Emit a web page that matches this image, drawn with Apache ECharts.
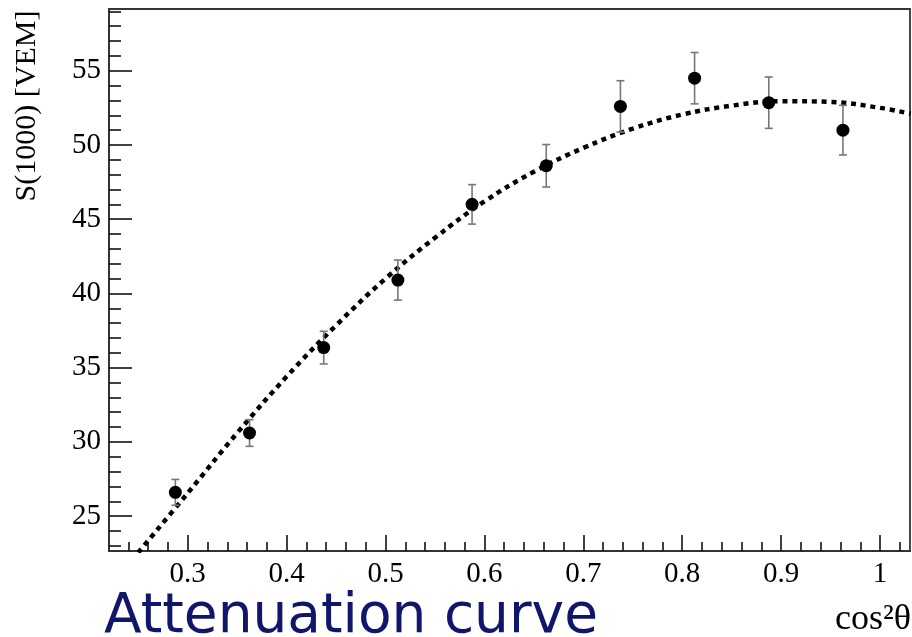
<!DOCTYPE html>
<html>
<head>
<meta charset="utf-8">
<script src="https://cdn.jsdelivr.net/npm/echarts@6/dist/echarts.min.js"></script>
<style>
  html, body { margin: 0; padding: 0; background: #fff; }
  #chart { width: 912px; height: 637px; }
</style>
</head>
<body>
<div id="chart"></div>
<script>
// measured points: cos^2(theta), S(1000), error
var pointX = [0.2875, 0.3625, 0.4375, 0.5125, 0.5875, 0.6625, 0.7375, 0.8125, 0.8875, 0.9625];
var pointY = [26.6, 30.6, 36.35, 40.9, 46.0, 48.6, 52.6, 54.5, 52.85, 51.0];
var pointErr = [0.87, 0.9, 1.1, 1.35, 1.33, 1.43, 1.73, 1.73, 1.73, 1.67];

// fitted curve
var curveX = [0.25, 0.30, 0.35, 0.40, 0.45, 0.50, 0.55, 0.60, 0.65, 0.70, 0.75, 0.80, 0.85, 0.90, 0.95, 1.00, 1.031];
var curveY = [22.55, 26.55, 30.6, 34.4, 37.85, 41.0, 43.75, 46.2, 48.2, 49.8, 51.1, 52.05, 52.65, 52.95, 52.9, 52.5, 52.1];

// axes
var xMajor = [0.3, 0.4, 0.5, 0.6, 0.7, 0.8, 0.9, 1.0];
var xMinor = [0.24, 0.26, 0.28, 0.32, 0.34, 0.36, 0.38, 0.42, 0.44, 0.46, 0.48, 0.52, 0.54, 0.56, 0.58,
  0.62, 0.64, 0.66, 0.68, 0.72, 0.74, 0.76, 0.78, 0.82, 0.84, 0.86, 0.88, 0.92, 0.94, 0.96, 0.98, 1.02];
var yMajor = [25, 30, 35, 40, 45, 50, 55];
var yMinor = [23, 24, 26, 27, 28, 29, 31, 32, 33, 34, 36, 37, 38, 39, 41, 42, 43, 44,
  46, 47, 48, 49, 51, 52, 53, 54, 56, 57, 58, 59];
var X_MIN = 0.2204, X_MAX = 1.0303;
var Y_MIN = 22.65, Y_MAX = 59.16;

var serif = '"Liberation Serif", "DejaVu Serif", serif';
var axisColor = '#333';

var myChart = echarts.init(document.getElementById('chart'));

var points = pointX.map(function (x, i) { return [x, pointY[i], pointErr[i]]; });
var curve = curveX.map(function (x, i) { return [x, curveY[i]]; });

option = {
    backgroundColor: '#fff',
    animation: false,
    grid: {
        left: 109,
        top: 9,
        right: 2,
        bottom: 86,
        show: true,
        borderColor: axisColor,
        borderWidth: 1.8
    },
    xAxis: [{
        type: 'value',
        min: X_MIN,
        max: X_MAX,
        position: 'bottom',
        splitLine: { show: false },
        axisLine: { show: true, lineStyle: { color: axisColor, width: 1.8 } },
        axisTick: { show: true, inside: true, length: 16, customValues: xMajor,
            lineStyle: { color: '#111', width: 1.6 } },
        axisLabel: {
            customValues: xMajor,
            margin: 9,
            fontFamily: serif,
            fontSize: 29,
            color: '#000',
            formatter: function (v) { return String(+v.toFixed(2)); }
        }
    }, {
        type: 'value',
        min: X_MIN,
        max: X_MAX,
        position: 'bottom',
        splitLine: { show: false },
        axisLine: { show: false },
        axisTick: { show: true, inside: true, length: 9, customValues: xMinor,
            lineStyle: { color: '#111', width: 1.6 } },
        axisLabel: { show: false }
    }],
    yAxis: [{
        type: 'value',
        min: Y_MIN,
        max: Y_MAX,
        position: 'left',
        splitLine: { show: false },
        axisLine: { show: true, lineStyle: { color: axisColor, width: 1.8 } },
        axisTick: { show: true, inside: true, length: 23, customValues: yMajor,
            lineStyle: { color: '#111', width: 1.6 } },
        axisLabel: {
            customValues: yMajor,
            margin: 8,
            fontFamily: serif,
            fontSize: 29,
            color: '#000'
        }
    }, {
        type: 'value',
        min: Y_MIN,
        max: Y_MAX,
        position: 'left',
        splitLine: { show: false },
        axisLine: { show: false },
        axisTick: { show: true, inside: true, length: 12, customValues: yMinor,
            lineStyle: { color: '#111', width: 1.6 } },
        axisLabel: { show: false }
    }],
    graphic: [{
        type: 'text',
        x: 27,
        y: 106,
        rotation: Math.PI / 2,
        style: {
            text: 'S(1000) [VEM]',
            font: '30px ' + serif,
            fill: '#000',
            textAlign: 'center',
            textVerticalAlign: 'middle'
        }
    }, {
        type: 'text',
        x: 911,
        y: 638,
        style: {
            text: 'cos²θ',
            font: '36px ' + serif,
            fill: '#000',
            textAlign: 'right',
            textVerticalAlign: 'bottom'
        }
    }, {
        type: 'text',
        x: 104,
        y: 645,
        style: {
            text: 'Attenuation curve',
            font: '55px "DejaVu Sans", sans-serif',
            fill: '#10166a',
            textAlign: 'left',
            textVerticalAlign: 'bottom'
        }
    }],
    series: [{
        name: 'fit',
        type: 'line',
        smooth: 0.4,
        showSymbol: false,
        symbol: 'none',
        clip: true,
        z: 2,
        lineStyle: { color: '#000', width: 4.5, type: [5, 4.8], cap: 'butt' },
        data: curve
    }, {
        name: 'errors',
        type: 'custom',
        z: 3,
        renderItem: function (params, api) {
            var x = api.value(0), y = api.value(1), e = api.value(2);
            var top = api.coord([x, y + e]);
            var bot = api.coord([x, y - e]);
            var st = { stroke: '#777', lineWidth: 1.6 };
            return {
                type: 'group',
                children: [
                    { type: 'line', shape: { x1: top[0], y1: top[1], x2: bot[0], y2: bot[1] }, style: st },
                    { type: 'line', shape: { x1: top[0] - 4, y1: top[1], x2: top[0] + 4, y2: top[1] }, style: st },
                    { type: 'line', shape: { x1: bot[0] - 4, y1: bot[1], x2: bot[0] + 4, y2: bot[1] }, style: st }
                ]
            };
        },
        data: points
    }, {
        name: 'S(1000)',
        type: 'scatter',
        symbol: 'circle',
        symbolSize: 13,
        z: 4,
        itemStyle: { color: '#000', opacity: 1 },
        data: points.map(function (p) { return [p[0], p[1]]; })
    }]
};
myChart.setOption(option);
</script>
</body>
</html>
